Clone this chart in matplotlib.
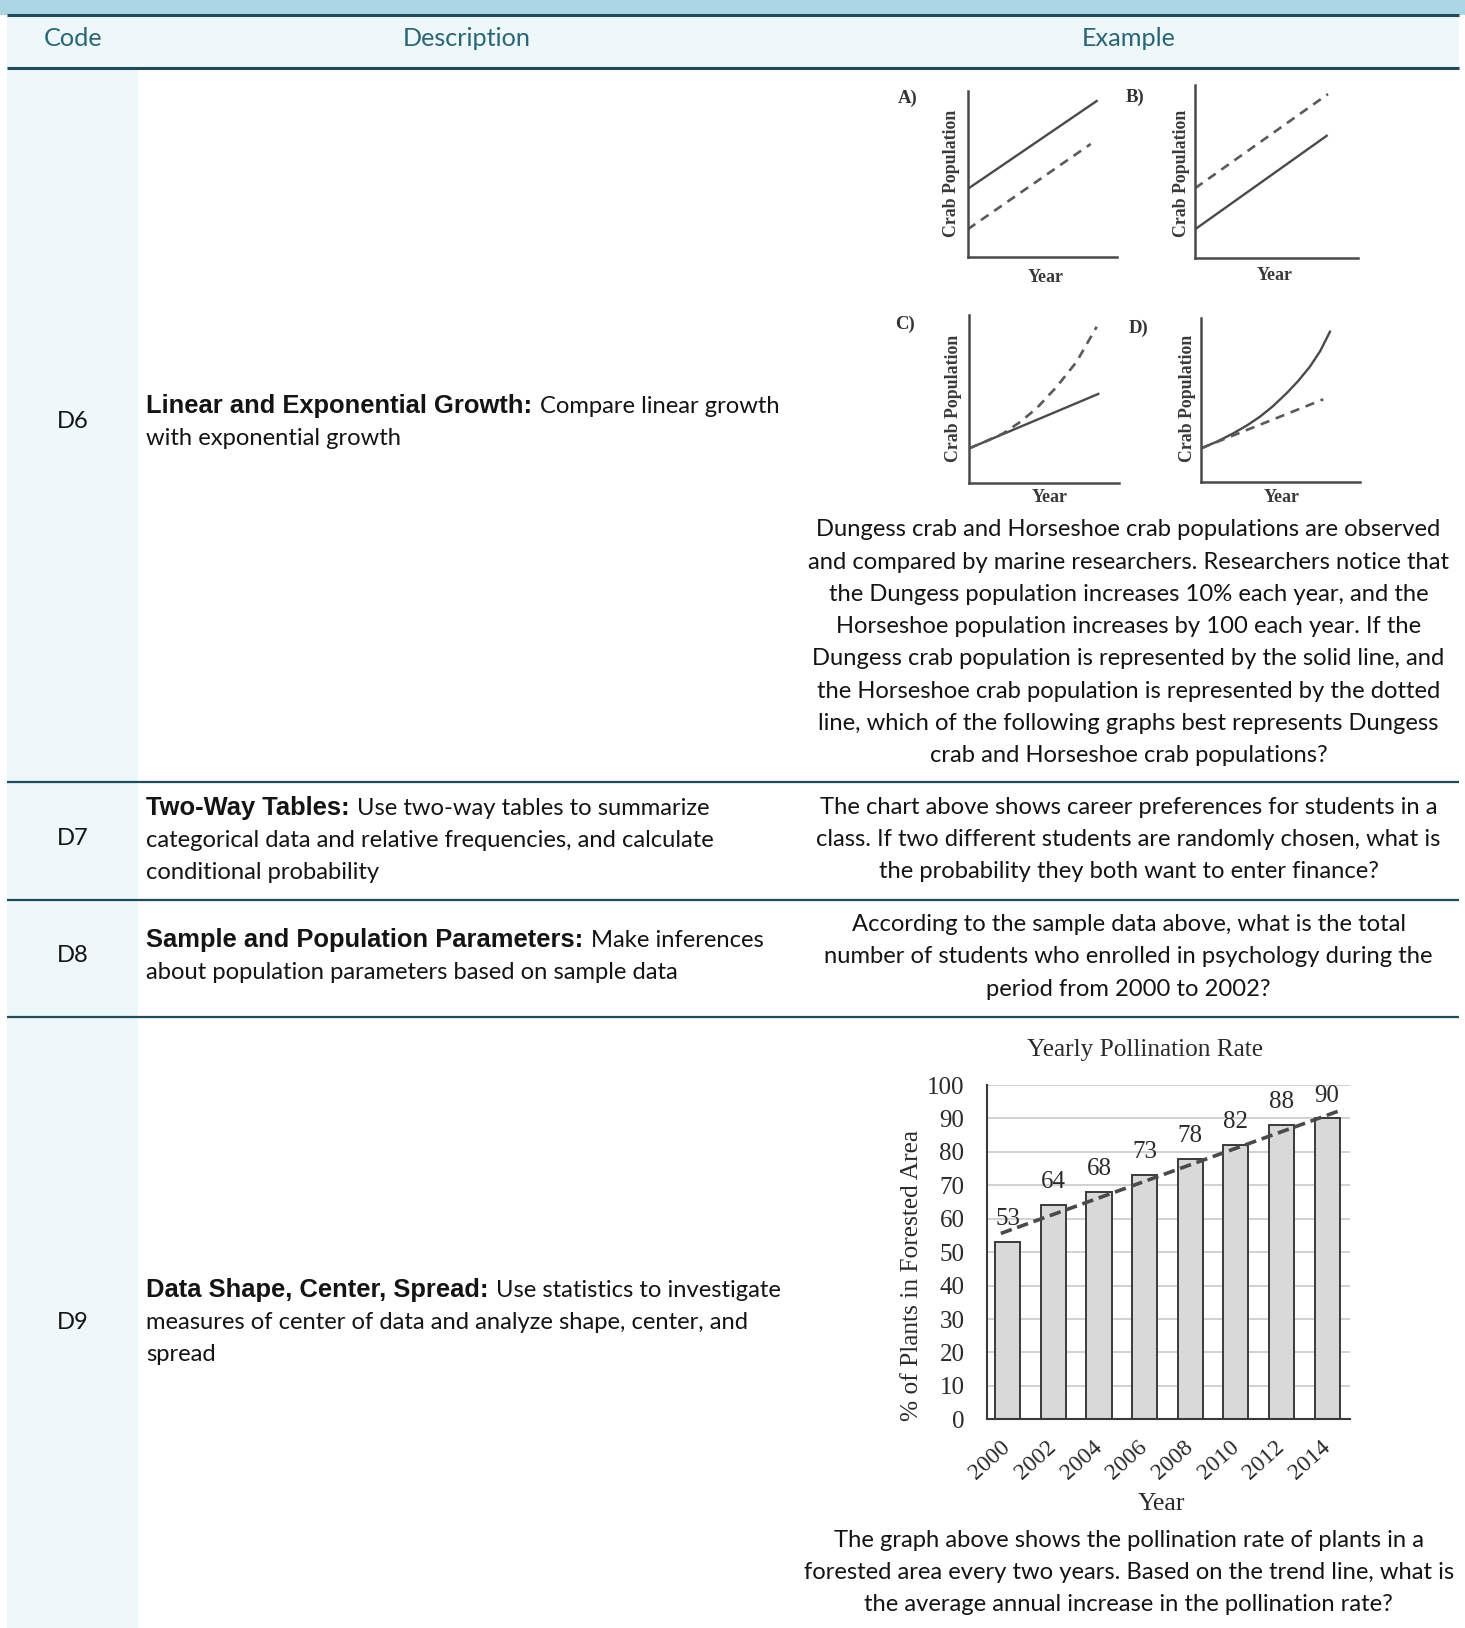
import numpy as np
import matplotlib.pyplot as plt
from matplotlib.patches import Rectangle

W, H = 1465, 1628

# table content
codes = ["D6", "D7", "D8", "D9"]
desc_bold = ["Linear and Exponential Growth:", "Two-Way Tables:",
             "Sample and Population Parameters:", "Data Shape, Center, Spread:"]
desc_lines = [
    ["Compare linear growth", "with exponential growth"],
    ["Use two-way tables to summarize",
     "categorical data and relative frequencies, and calculate",
     "conditional probability"],
    ["Make inferences", "about population parameters based on sample data"],
    ["Use statistics to investigate",
     "measures of center of data and analyze shape, center, and", "spread"],
]
examples = [
    ["Dungess crab and Horseshoe crab populations are observed",
     "and compared by marine researchers. Researchers notice that",
     "the Dungess population increases 10% each year, and the",
     "Horseshoe population increases by 100 each year. If the",
     "Dungess crab population is represented by the solid line, and",
     "the Horseshoe crab population is represented by the dotted",
     "line, which of the following graphs best represents Dungess",
     "crab and Horseshoe crab populations?"],
    ["The chart above shows career preferences for students in a",
     "class. If two different students are randomly chosen, what is",
     "the probability they both want to enter finance?"],
    ["According to the sample data above, what is the total",
     "number of students who enrolled in psychology during the",
     "period from 2000 to 2002?"],
    ["The graph above shows the pollination rate of plants in a",
     "forested area every two years. Based on the trend line, what is",
     "the average annual increase in the pollination rate?"],
]

# crab sketches (x = year, y = population, arbitrary units)
a_solid_x = [0, 8.64]
a_solid_y = [4.08, 9.38]
a_dash_x = [0, 8.24]
a_dash_y = [1.65, 6.79]
b_solid_x = [0, 8.08]
b_solid_y = [1.67, 7.07]
b_dash_x = [0, 8.16]
b_dash_y = [4.04, 9.48]
c_solid_x = [0, 8.6]
c_solid_y = [2.08, 5.31]
c_dash_x = [0, 1.0, 2.27, 3.4, 4.49, 5.83, 7.16, 8.49]
c_dash_y = [2.08, 2.45, 2.97, 3.65, 4.46, 5.74, 7.23, 9.30]
d_solid_x = [0, 1.0, 2.03, 2.9, 3.71, 4.5, 5.38, 6.1, 6.85, 7.5, 8.11]
d_solid_y = [2.04, 2.45, 2.96, 3.45, 3.98, 4.6, 5.41, 6.15, 7.04, 8.0, 9.18]
d_dash_x = [0, 7.69]
d_dash_y = [2.04, 5.04]

# pollination chart
years = ["2000", "2002", "2004", "2006", "2008", "2010", "2012", "2014"]
rates = [53, 64, 68, 73, 78, 82, 88, 90]
trend_x = [-0.15, 7.35]
trend_y = [55.6, 92.7]

band = "#acd5e6"
light = "#eef7f9"
rule = "#224b59"
head_col = "#2b6676"
txt_col = "#141414"
body_font = ["Lato", "DejaVu Sans"]
bold_font = ["Liberation Sans", "DejaVu Sans"]
serif = ["Liberation Serif", "DejaVu Serif"]

fig = plt.figure(figsize=(W / 100, H / 100), dpi=100)
ax = fig.add_axes([0, 0, 1, 1])
ax.set_xlim(0, W)
ax.set_ylim(H, 0)
ax.axis("off")

# background pieces
ax.add_patch(Rectangle((0, 0), W, 14.5, color=band, lw=0))
ax.add_patch(Rectangle((7, 14.5), 1452, 53, color=light, lw=0))
ax.add_patch(Rectangle((7, 67.5), 131, H - 67.5, color=light, lw=0))
for y, lw in [(14.5, 2.2), (67.5, 2.2), (782, 1.6), (900, 1.6), (1016.5, 1.6)]:
    ax.plot([7, 1459], [y, y], color=rule, lw=lw, solid_capstyle="butt")

for label, x in [("Code", 72.7), ("Description", 467), ("Example", 1128.6)]:
    ax.text(x, 46.5, label, ha="center", va="baseline", fontsize=18.2,
            color=head_col, family=body_font)

renderer = fig.canvas.get_renderer()

code_y = [420.5, 837.9, 955.2, 1321.7]
desc_y0 = [406, 807.8, 939.7, 1289.6]
ex_y0 = [529.5, 806.8, 924.1, 1539.8]
step = 32.2
fs = 17.1

for i in range(4):
    ax.text(72.7, code_y[i] + 7, codes[i], ha="center", va="baseline",
            fontsize=fs, color=txt_col, family=body_font)
    y = desc_y0[i] + 7
    t = ax.text(146.4, y, desc_bold[i], va="baseline", fontsize=18.4,
                fontweight="bold", color=txt_col, family=bold_font)
    w = t.get_window_extent(renderer).width
    ax.text(146.4 + w + 7, y, desc_lines[i][0], va="baseline", fontsize=fs,
            color=txt_col, family=body_font)
    for k, line in enumerate(desc_lines[i][1:]):
        ax.text(146.4, y + (k + 1) * step, line, va="baseline", fontsize=fs,
                color=txt_col, family=body_font)
    for k, line in enumerate(examples[i]):
        ax.text(1128.6, ex_y0[i] + 7 + k * step, line, ha="center",
                va="baseline", fontsize=fs, color=txt_col, family=body_font)


def crab_axes(l, r, b, t):
    a = fig.add_axes([l / W, 1 - b / H, (r - l) / W, (b - t) / H])
    a.set_xlim(0, 10)
    a.set_ylim(0, 10)
    a.patch.set_alpha(0)
    a.spines["top"].set_visible(False)
    a.spines["right"].set_visible(False)
    for s in ["left", "bottom"]:
        a.spines[s].set_color("#4a4a4a")
        a.spines[s].set_linewidth(1.8)
    a.set_xticks([])
    a.set_yticks([])
    return a


line_kw = dict(color="#4a4a4a", lw=1.7)
dash_kw = dict(color="#5a5a5a", lw=1.9, linestyle=(0, (3.5, 2.6)))

axA = crab_axes(967.7, 1117, 256.7, 90.7)
axA.plot(a_solid_x, a_solid_y, **line_kw)
axA.plot(a_dash_x, a_dash_y, **dash_kw)
axB = crab_axes(1195, 1358, 258.3, 85)
axB.plot(b_solid_x, b_solid_y, **line_kw)
axB.plot(b_dash_x, b_dash_y, **dash_kw)
axC = crab_axes(969.3, 1119.3, 483.3, 315)
axC.plot(c_solid_x, c_solid_y, **line_kw)
axC.plot(c_dash_x, c_dash_y, **dash_kw)
axD = crab_axes(1201, 1360, 481.7, 318.3)
axD.plot(d_solid_x, d_solid_y, **line_kw)
axD.plot(d_dash_x, d_dash_y, **dash_kw)

for lab, x, y in [("A)", 908, 98), ("B)", 1135, 97), ("C)", 905, 324), ("D)", 1139, 328)]:
    ax.text(x, y, lab, ha="center", va="center", fontsize=13.5,
            fontweight="bold", color="#333333", family=serif)
for x, y in [(1045.7, 277), (1275, 276), (1050, 497), (1282, 497)]:
    ax.text(x, y, "Year", ha="center", va="center", fontsize=13,
            fontweight="bold", color="#3a3a3a", family=serif)
for x, y in [(951.7, 173), (1181.7, 173), (954, 398), (1188, 398)]:
    ax.text(x, y, "Crab Population", ha="center", va="center", fontsize=12.8,
            fontweight="bold", rotation=90, color="#3a3a3a", family=serif)

# pollination bar chart
l, r, b, t = 986.7, 1350, 1419.3, 1085
bx = fig.add_axes([l / W, 1 - b / H, (r - l) / W, (b - t) / H])
pos = np.arange(len(years))
bx.set_xlim(-0.46, 7.5)
bx.set_ylim(0, 100)
bx.set_yticks(np.arange(0, 101, 10))
bx.grid(axis="y", color="#c9c9c9", lw=1.2)
bx.set_axisbelow(True)
bx.bar(pos, rates, width=0.55, color="#d9d9d9", edgecolor="#3a3a3a", lw=1.4)
bx.plot(trend_x, trend_y, color="#4a4a4a", lw=2.6, linestyle=(0, (3.2, 1.6)))
for p, v in zip(pos, rates):
    bx.annotate(str(v), (p, v), xytext=(0, 16.5), textcoords="offset points",
                ha="center", va="center", fontsize=18, color="#2a2a2a",
                family=serif)
for s in ["top", "right"]:
    bx.spines[s].set_visible(False)
for s in ["left", "bottom"]:
    bx.spines[s].set_color("#3a3a3a")
    bx.spines[s].set_linewidth(1.5)
bx.tick_params(axis="y", length=0, pad=16, labelsize=18, labelcolor="#2a2a2a")
bx.tick_params(axis="x", length=0, pad=18, labelsize=17, labelcolor="#2a2a2a")
bx.set_xticks(pos)
bx.set_xticklabels(years, rotation=42, ha="right", va="center",
                   rotation_mode="anchor", family=serif)
for lbl in bx.get_yticklabels():
    lbl.set_family(serif)
bx.text(0.436, 1.105, "Yearly Pollination Rate", transform=bx.transAxes,
        ha="center", va="center", fontsize=18.2, color="#2a2a2a", family=serif)
bx.text(0.482, -0.252, "Year", transform=bx.transAxes, ha="center",
        va="center", fontsize=18.5, color="#2a2a2a", family=serif)
bx.text(-0.206, 0.429, "% of Plants in Forested Area", transform=bx.transAxes,
        ha="center", va="center", rotation=90, fontsize=18.3, color="#2a2a2a",
        family=serif)

fig.savefig("out.png", dpi=100)
